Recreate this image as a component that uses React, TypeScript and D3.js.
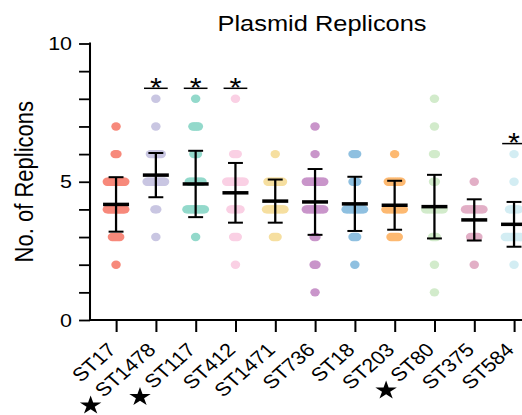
import { useEffect, useRef } from 'react'
import * as d3 from 'd3'

const width = 522
const height = 415
// the picture is a little stretched sideways, so draw in narrower units and scale x
const sx = 1.13
const innerW = width / sx

const categories = ['ST17', 'ST1478', 'ST117', 'ST412', 'ST1471', 'ST736', 'ST18', 'ST203', 'ST80', 'ST375', 'ST584']
const starred = ['ST1478', 'ST117', 'ST80']
const significant = ['ST1478', 'ST117', 'ST412', 'ST584']
const colors = ['#F7897B', '#C9C6E2', '#93D9CB', '#FAD0E4', '#F6DFA0', '#C995CA', '#8FC0E0', '#FDB971', '#D2EBCB', '#E2AFC6', '#D3EDF3']

// number of replicons -> isolates per sequence type
const replicons = [1, 2, 3, 4, 5, 6, 7, 8]
const counts = [
  [0, 1, 5, 14, 12, 2, 1, 0], // ST17
  [0, 0, 1, 2, 12, 7, 1, 1], // ST1478
  [0, 0, 1, 12, 8, 3, 4, 1], // ST117
  [0, 1, 3, 6, 12, 3, 0, 1], // ST412
  [0, 0, 3, 12, 9, 1, 0, 0], // ST1471
  [1, 2, 2, 12, 11, 1, 1, 0], // ST736
  [0, 1, 3, 12, 3, 3, 0, 0], // ST18
  [0, 0, 5, 11, 8, 1, 0, 0], // ST203
  [1, 1, 3, 11, 2, 2, 1, 1], // ST80
  [0, 1, 5, 11, 1, 0, 0, 0], // ST375
  [0, 1, 12, 6, 1, 1, 0, 0], // ST584
]
const means = [4.18, 5.24, 4.92, 4.6, 4.3, 4.27, 4.2, 4.15, 4.1, 3.62, 3.46]
const sds = [0.985, 0.8, 1.2, 1.08, 0.78, 1.19, 0.98, 0.885, 1.15, 0.745, 0.81]
const yTicks = [0, 1, 2, 3, 4, 5, 6, 7, 8, 9, 10]
const yLabels = [0, 5, 10]

const font = '"Liberation Sans", Arial, Helvetica, sans-serif'

function App() {
  const ref = useRef<SVGSVGElement>(null)

  useEffect(() => {
    const svg = d3.select(ref.current)
    svg.selectAll('*').remove()
    const g = svg.append('g').attr('transform', `scale(${sx},1)`)

    const x = d3.scalePoint<string>().domain(categories).range([102.7, 454.9])
    const y = d3.scaleLinear().domain([0, 10]).range([320, 43.5])
    const axisX = 79.65

    // dots
    const r = 4.2
    categories.forEach((c, i) => {
      const cx = x(c)!
      replicons.forEach((v, j) => {
        const n = counts[i][j]
        if (!n) return
        const spread = Math.min(15.4, (n - 1) * 1.6)
        const offs = d3.range(n).map(k => (n === 1 ? 0 : -spread / 2 + (k * spread) / (n - 1)))
        g.selectAll(null)
          .data(offs)
          .enter()
          .append('circle')
          .attr('cx', d => cx + d)
          .attr('cy', y(v))
          .attr('r', r)
          .attr('fill', colors[i])
      })
    })

    // mean and SD
    categories.forEach((c, i) => {
      const cx = x(c)!
      const top = y(means[i] + sds[i])
      const bot = y(means[i] - sds[i])
      g.append('line').attr('x1', cx).attr('x2', cx).attr('y1', top).attr('y2', bot)
        .attr('stroke', '#000').attr('stroke-width', 2)
      ;[top, bot].forEach(yy => {
        g.append('line').attr('x1', cx - 6.6).attr('x2', cx + 6.6).attr('y1', yy).attr('y2', yy)
          .attr('stroke', '#000').attr('stroke-width', 2)
      })
      g.append('line').attr('x1', cx - 11.5).attr('x2', cx + 11.5)
        .attr('y1', y(means[i])).attr('y2', y(means[i]))
        .attr('stroke', '#000').attr('stroke-width', 3.5)
    })

    // significance marks
    significant.forEach(c => {
      const i = categories.indexOf(c)
      const maxV = d3.max(replicons.filter((_, j) => counts[i][j] > 0))!
      const ly = y(maxV) - 10.5
      const cx = x(c)!
      g.append('line').attr('x1', cx - 10.5).attr('x2', cx + 10.5).attr('y1', ly).attr('y2', ly)
        .attr('stroke', '#000').attr('stroke-width', 1.5)
      g.append('text').attr('x', cx).attr('y', ly + 8.5).attr('text-anchor', 'middle')
        .attr('font-family', font).attr('font-size', 27).text('*')
    })

    // y axis
    const ya = g.append('g').attr('transform', `translate(${axisX},0)`)
      .call(d3.axisLeft(y).tickValues(yTicks).tickSize(9.7).tickPadding(6.2)
        .tickFormat(d => (yLabels.includes(+d) ? String(d) : '')))
    ya.select('.domain').remove()
    ya.selectAll('line').attr('stroke', '#000').attr('stroke-width', 1.8)
    ya.selectAll('text').attr('font-family', font).attr('font-size', 19).attr('fill', '#000')
    g.append('line').attr('x1', axisX).attr('x2', axisX).attr('y1', y(10) - 0.9).attr('y2', y(0))
      .attr('stroke', '#000').attr('stroke-width', 1.8)

    // x axis
    const xa = g.append('g').attr('transform', 'translate(0,320)')
      .call(d3.axisBottom(x).tickSize(12).tickFormat(() => ''))
    xa.select('.domain').remove()
    xa.selectAll('line').attr('stroke', '#000').attr('stroke-width', 1.8)
    g.append('line').attr('x1', axisX - 0.9).attr('x2', innerW + 10).attr('y1', 320).attr('y2', 320)
      .attr('stroke', '#000').attr('stroke-width', 1.8)

    categories.forEach(c => {
      const px = x(c)! + 1
      const py = 351
      const lg = g.append('g').attr('transform', `translate(${px},${py}) rotate(-45)`)
      const t = lg.append('text').attr('text-anchor', 'end').attr('font-family', font)
        .attr('font-size', 19).attr('fill', '#000').text(c)
      if (starred.includes(c)) {
        const len = (t.node() as SVGTextElement).getComputedTextLength()
        const a = -(len + 13.5)
        const b = -3
        const k = Math.SQRT1_2
        g.append('path')
          .attr('d', d3.symbol(d3.symbolStar, 112)())
          .attr('transform', `translate(${px + k * (a + b)},${py + k * (b - a)})`)
          .attr('fill', '#000')
      }
    })

    // titles
    g.append('text').attr('x', 285).attr('y', 31.5).attr('text-anchor', 'middle')
      .attr('font-family', font).attr('font-size', 22.5).attr('fill', '#000').text('Plasmid Replicons')
    g.append('text').attr('transform', 'translate(29.2,181.7) rotate(-90)').attr('text-anchor', 'middle')
      .attr('font-family', font).attr('font-size', 22).attr('fill', '#000').text('No. of Replicons')
  }, [])

  return (
    <svg
      ref={ref}
      width={width}
      height={height}
      style={{ position: 'absolute', left: 0, top: 0, background: '#fff' }}
    />
  )
}

export default App
